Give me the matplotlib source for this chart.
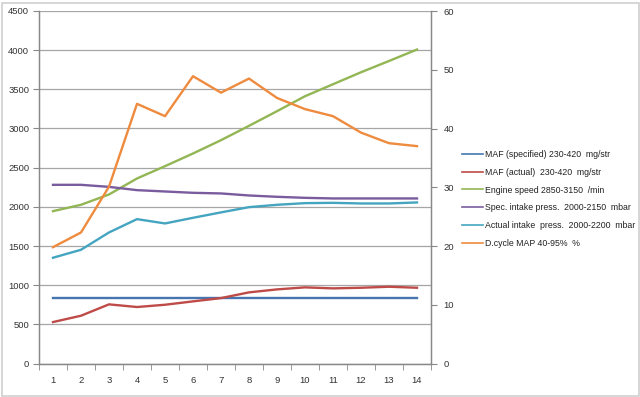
import matplotlib
matplotlib.use("Agg")
import matplotlib.pyplot as plt
from matplotlib.patches import Rectangle

plt.rcParams['font.family'] = ['Liberation Sans', 'DejaVu Sans']

x = list(range(1, 15))
maf_spec = [840] * 14
maf_act = [529, 610, 755, 721, 750, 793, 835, 908, 946, 972, 959, 967, 980, 967]
engine = [1945, 2026, 2158, 2362, 2519, 2681, 2851, 3034, 3221, 3412, 3565, 3718, 3862, 4008]
spec_press = [2281, 2281, 2255, 2213, 2196, 2179, 2171, 2145, 2128, 2115, 2107, 2107, 2107, 2107]
act_press = [1350, 1452, 1673, 1843, 1788, 1860, 1929, 1996, 2026, 2047, 2051, 2043, 2043, 2056]
dcycle = [19.8, 22.3, 30.1, 44.2, 42.1, 48.9, 46.1, 48.5, 45.2, 43.3, 42.1, 39.3, 37.5, 37.0]

labels = ["MAF (specified) 230-420  mg/str",
          "MAF (actual)  230-420  mg/str",
          "Engine speed 2850-3150  /min",
          "Spec. intake press.  2000-2150  mbar",
          "Actual intake  press.  2000-2200  mbar",
          "D.cycle MAP 40-95%  %"]
colors = ["#4675B0", "#BE4B48", "#93B655", "#7A5C9E", "#45A5C0", "#EE8B3E"]

fig = plt.figure(figsize=(6.4, 3.97), dpi=100)
ax = fig.add_axes([39/640, 33.5/397, 392/640, 352.5/397])
ax2 = ax.twinx()

lw = 1.7
h = []
for ys, c, l in zip([maf_spec, maf_act, engine, spec_press, act_press], colors[:5], labels[:5]):
    h += ax.plot(x, ys, color=c, lw=lw, label=l, solid_joinstyle='round')
h += ax2.plot(x, dcycle, color=colors[5], lw=lw, label=labels[5], solid_joinstyle='round')

ax.set_xlim(0.5, 14.5)
ax.set_ylim(0, 4500)
ax.set_yticks(range(0, 4501, 500))
ax2.set_ylim(0, 60)
ax2.set_yticks(range(0, 61, 10))
ax.set_xticks(x)
ax.set_xticks([i + 0.5 for i in range(0, 15)], minor=True)
ax.tick_params(axis='x', which='major', length=0, pad=9, labelsize=6.8, colors='#333333')
ax.tick_params(axis='x', which='minor', length=4, color='#888888', direction='out')
ax.tick_params(axis='y', length=4, color='#888888', labelsize=6.8, labelcolor='#333333', pad=3)
ax2.tick_params(axis='y', length=4, color='#888888', labelsize=6.8, labelcolor='#333333', pad=5)

ax.grid(axis='y', color='#A6A6A6', lw=0.9)
ax.set_axisbelow(True)
for a in (ax, ax2):
    a.spines['top'].set_visible(False)
    for s in ('left', 'right', 'bottom'):
        a.spines[s].set_color('#888888')
        a.spines[s].set_linewidth(0.9)

leg = fig.legend(handles=h, loc='upper left', bbox_to_anchor=(462/640, 1 - 150/397),
                 frameon=False, fontsize=6.3, handlelength=2.4, handletextpad=0.2,
                 labelspacing=1.0, borderaxespad=0, borderpad=0)
for t in leg.get_texts():
    t.set_color('#222222')
for line in leg.get_lines():
    line.set_linewidth(1.2)

fig.patches.append(Rectangle((1.5/640, 1.5/397), 637/640, 393/397, transform=fig.transFigure,
                             fill=False, edgecolor='#D0D0D0', lw=1.2))

fig.savefig("out.png", dpi=100)
